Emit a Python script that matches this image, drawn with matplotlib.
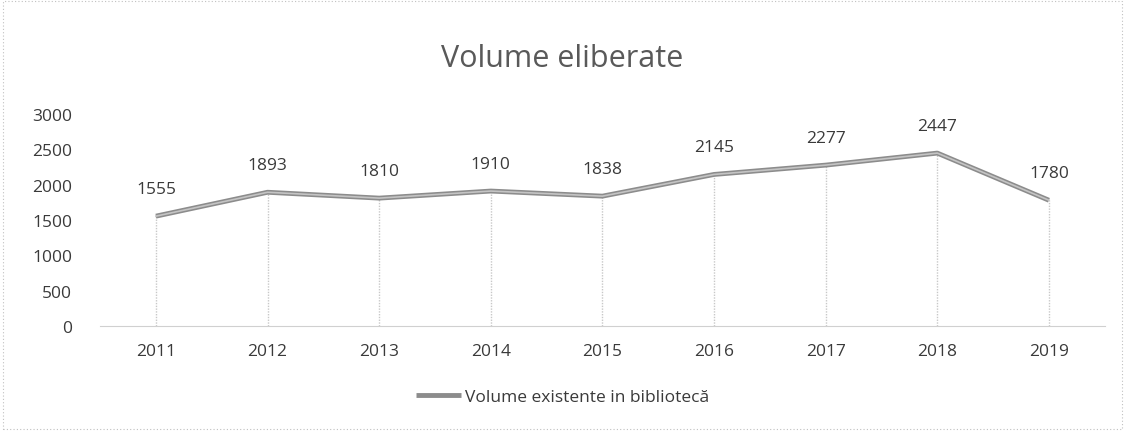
import matplotlib.pyplot as plt
from matplotlib.patches import Rectangle

# date
ani = ['2011', '2012', '2013', '2014', '2015', '2016', '2017', '2018', '2019']
volume = [1555, 1893, 1810, 1910, 1838, 2145, 2277, 2447, 1780]
y_ticks = [0, 500, 1000, 1500, 2000, 2500, 3000]

plt.rcParams['font.family'] = ['Open Sans', 'DejaVu Sans']
text_col = '#3a3a3a'

fig = plt.figure(figsize=(11.25, 4.39), dpi=100)
ax = fig.add_axes([0.089, 0.255, 0.893, 0.483])

x = list(range(len(ani)))
# linii verticale de la punct la baza
ax.vlines(x, 0, volume, colors='#c8c8c8', linewidth=1, linestyles=(0, (1, 1)))
ax.plot(x, volume, color='#8c8c8c', linewidth=3.5, solid_capstyle='butt',
        label='Volume existente in bibliotecă')
ax.plot(x, volume, color='#c4c4c4', linewidth=1.2)

for xi, v in zip(x, volume):
    ax.annotate(str(v), (xi, v), xytext=(0, 14), textcoords='offset points',
                ha='center', va='bottom', fontsize=12.5, color=text_col)

ax.set_xlim(-0.5, len(ani) - 0.5)
ax.set_ylim(0, 3000)
ax.set_yticks(y_ticks)
ax.set_xticks(x)
ax.set_xticklabels(ani)
ax.tick_params(axis='both', length=0, labelsize=12.5, labelcolor=text_col)
ax.tick_params(axis='x', pad=12)
ax.tick_params(axis='y', pad=20)
for s in ['top', 'right', 'left']:
    ax.spines[s].set_visible(False)
ax.spines['bottom'].set_color('#d0d0d0')

fig.suptitle('Volume eliberate', y=0.9, fontsize=22, color='#595959')

leg = fig.legend(loc='lower center', bbox_to_anchor=(0.5, 0.04), frameon=False,
                 fontsize=12.5, handlelength=2.6, handletextpad=0.2, labelcolor=text_col)

# chenar punctat in jurul graficului
fig.patches.append(Rectangle((0.003, 0.02), 0.994, 0.975, transform=fig.transFigure,
                             fill=False, edgecolor='#c0c0c0', linewidth=0.8,
                             linestyle=(0, (1, 2))))

plt.savefig('out.png', dpi=100)
